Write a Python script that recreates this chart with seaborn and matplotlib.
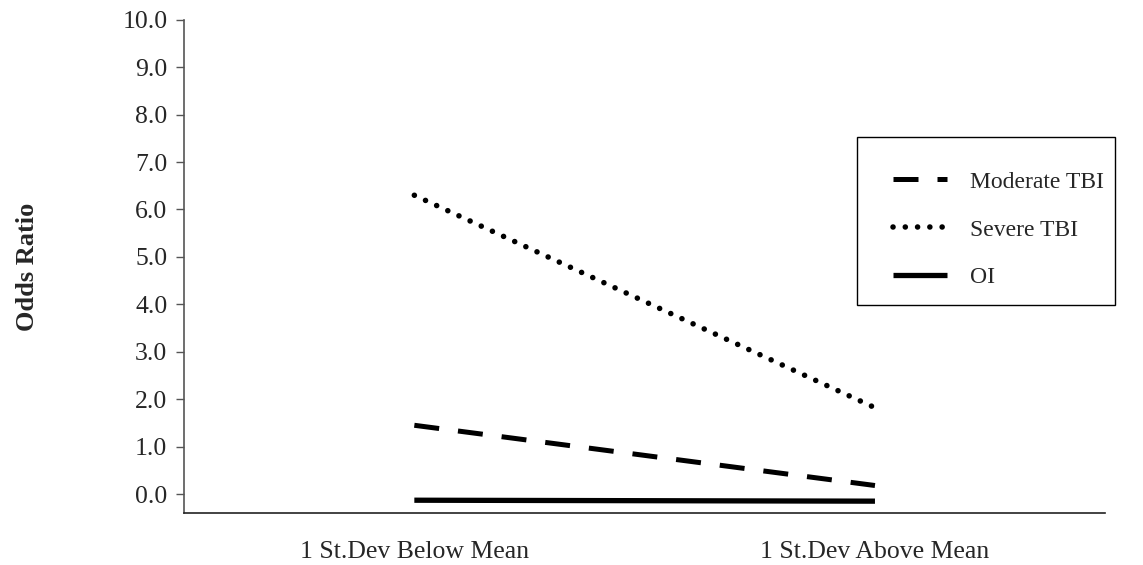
import pandas as pd
import seaborn as sns
from matplotlib import pyplot as plt
from matplotlib.patches import Rectangle

# ========================================================
categories = ["1 St.Dev Below Mean", "1 St.Dev Above Mean"]
moderate = [1.45, 0.18]
severe = [6.3, 1.82]
oi = [-0.13, -0.15]

series = ["Moderate TBI", "Severe TBI", "OI"]

# ========================================================
sns.set_style("white")
plt.rcParams["font.family"] = ["Liberation Serif", "DejaVu Serif"]

dat = pd.DataFrame({
    "cat": categories * 3,
    "val": moderate + severe + oi,
    "group": [s for s in series for _ in categories],
})

fig = plt.figure(figsize=(11.43, 5.65), dpi=100)
ax = fig.add_axes([0.161, 0.092, 0.806, 0.873])

styles = {
    "Moderate TBI": dict(ls=(0, (5.0, 3.8)), cap="butt", lw=3.6),
    "Severe TBI": dict(ls=(0, (0.01, 2.2)), cap="round", lw=4.0),
    "OI": dict(ls="-", cap="butt", lw=3.8),
}

handles = []
for name in series:
    sub = dat[dat["group"] == name]
    n = len(ax.lines)
    sns.lineplot(data=sub, x="cat", y="val", ax=ax, color="black",
                 linewidth=styles[name]["lw"], label=name, legend=False, sort=False)
    line = ax.lines[n]
    line.set_linestyle(styles[name]["ls"])
    line.set_dash_capstyle(styles[name]["cap"])
    line.set_solid_capstyle("butt")
    handles.append(line)

ax.set_xlim(-0.5, 1.5)
ax.set_ylim(-0.4, 10.0)
ax.set_yticks([i for i in range(11)])
ax.set_yticklabels([f"{i:.1f}" for i in range(11)], fontsize=18.5)
ax.tick_params(axis="y", direction="out", length=6, width=1, color="#555555", pad=6, left=True)
ax.tick_params(axis="x", length=0, labelsize=18.5, pad=20)

for s in ["top", "right"]:
    ax.spines[s].set_visible(False)
ax.spines["left"].set_color("#555555")
ax.spines["bottom"].set_color("#222222")
ax.spines["left"].set_linewidth(1.2)
ax.spines["bottom"].set_linewidth(1.2)

ax.set_xlabel("")
ax.set_ylabel("Odds Ratio", fontsize=19, fontweight="bold", labelpad=60)

# legend box drawn by hand, entries without frame
fig.patches.append(Rectangle((857 / 1143, 1 - 305 / 565), 258 / 1143, 168 / 565,
                             transform=fig.transFigure, fill=False,
                             edgecolor="black", linewidth=1.0))
leg = ax.legend(handles=handles, labels=series, loc="upper left",
                bbox_to_anchor=(893 / 1143, 1 - 171 / 565),
                bbox_transform=fig.transFigure, fontsize=17, frameon=False,
                handlelength=2.3, handletextpad=0.95, labelspacing=1.12,
                borderpad=0, borderaxespad=0)

plt.savefig("out.png", dpi=100)
